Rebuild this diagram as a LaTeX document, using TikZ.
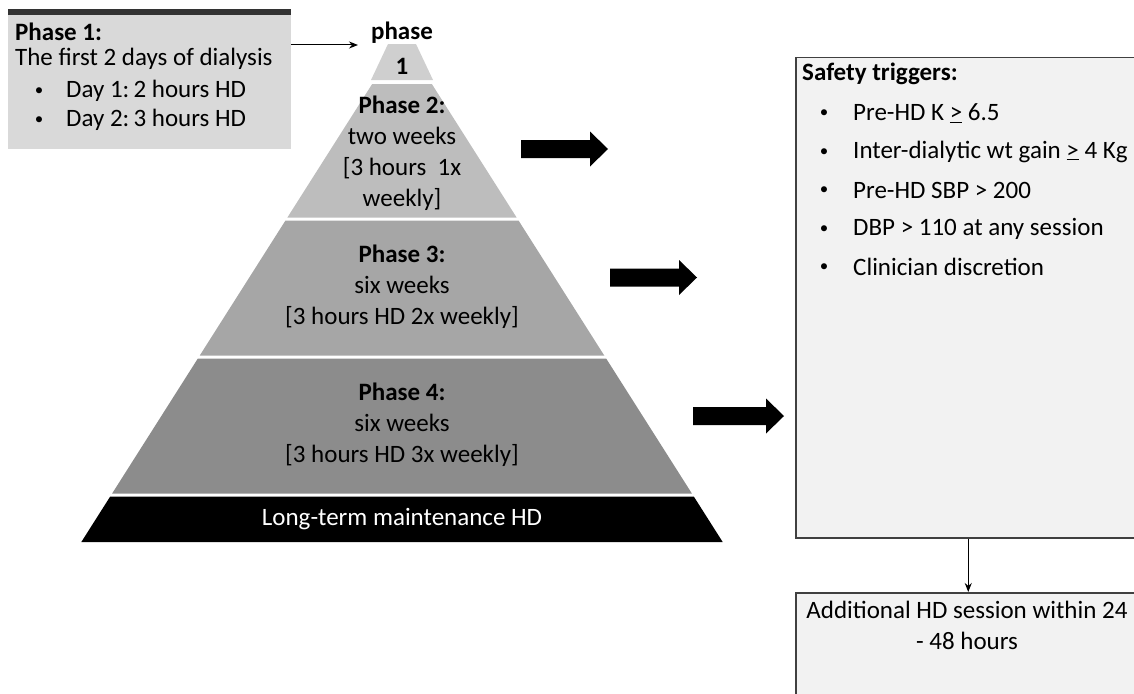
\documentclass[tikz,border=0pt]{standalone}
\usepackage{fontspec}
\setmainfont{Carlito}
\usetikzlibrary{arrows.meta}
\definecolor{boxgray}{HTML}{D9D9D9}
\definecolor{bargray}{HTML}{333333}
\definecolor{trigfill}{HTML}{F2F2F2}
\definecolor{trigline}{HTML}{404040}
\definecolor{layerone}{HTML}{CFCFCF}
\definecolor{layertwo}{HTML}{BDBDBD}
\definecolor{layerthree}{HTML}{A6A6A6}
\definecolor{layerfour}{HTML}{8C8C8C}

\begin{document}
\begin{tikzpicture}[x=1pt,y=-1pt,
    every node/.style={inner sep=0pt,font=\fontsize{25}{31}\selectfont},
    txt/.style={anchor=west},
    bul/.style={font=\fontsize{17}{20}\selectfont},
    layertxt/.style={align=center},
    thin arrow/.style={-{Stealth[length=9pt,width=7pt]},line width=1pt},
    trigbox/.style={draw=trigline,line width=1.5pt,fill=trigfill,anchor=north west,minimum width=345pt}]
  \clip (0,0) rectangle (1134,693);

  % phase 1 box
  \node[fill=boxgray,anchor=north west,minimum width=283pt,minimum height=134pt] (p1box) at (8,15) {};
  \fill[bargray] (p1box.north west) rectangle ([yshift=6pt]p1box.north east);
  \node[txt] (p1head) at (15,32) {\textbf{Phase 1:}};
  \node[txt] (p1sub) at (15,59) {The first 2 days of dialysis};
  \node[bul] (p1bula) at (39,92) {\textbullet};
  \node[txt] (p1day1) at (66,91) {Day 1:\,2 hours HD};
  \node[bul] (p1bulb) at (39,121) {\textbullet};
  \node[txt] (p1day2) at (66,120) {Day 2:\,3 hours HD};

  % pyramid
  \fill[layerone] (388,44) -- (416,44) -- (433,80) -- (371,80) -- cycle;
  \foreach \ya/\yb/\col in {84/217.5/layertwo, 220.5/355.5/layerthree, 358.5/493.5/layerfour, 496.5/542/black}
    \fill[\col] ({402-(\ya-37)*0.635},\ya) -- ({402+(\ya-37)*0.635},\ya)
      -- ({402+(\yb-37)*0.635},\yb) -- ({402-(\yb-37)*0.635},\yb) -- cycle;

  \node[layertxt,fill=white,inner xsep=2pt] (ptop) at (402,33) {\textbf{phase}};
  \node (pone) at (402,66) {\textbf{1}};
  \node[layertxt] (ptwo) at (402,153) {\textbf{Phase 2:}\\two weeks\\{[}3 hours\ \ 1x\\weekly{]}};
  \node[layertxt] (pthree) at (402,287) {\textbf{Phase 3:}\\six weeks\\{[}3 hours HD 2x weekly{]}};
  \node[layertxt] (pfour) at (402,425) {\textbf{Phase 4:}\\six weeks\\{[}3 hours HD 3x weekly{]}};
  \node[text=white] (ltm) at (402,519.5) {Long-term maintenance HD};

  \coordinate (p1tip) at (358,45);
  \draw[thin arrow] (p1box.east |- p1tip) -- (p1tip);

  % fat arrows
  \foreach \xa/\xt/\yc in {521/608/149, 610/697/277.5, 693/784/416}
    \fill (\xa,\yc-9) -- (\xt-18,\yc-9) -- (\xt-18,\yc-17.5) -- (\xt,\yc)
      -- (\xt-18,\yc+17.5) -- (\xt-18,\yc+9) -- (\xa,\yc+9) -- cycle;

  % safety triggers
  \node[trigbox,minimum height=480pt] (trig) at (795,57) {};
  \node[trigbox,minimum height=140pt] (extra) at (795,592) {};
  \draw[thin arrow] (trig.south) -- (extra.north);

  \node[txt] (trighead) at (802,74) {\textbf{Safety triggers:}};
  \foreach \crit [count=\i] in {{Pre-HD K \underline{>} 6.5},{Inter-dialytic wt gain \underline{>} 4 Kg},
      {Pre-HD SBP > 200},{DBP > 110 at any session},{Clinician discretion}} {
    \node[bul] (bul\i) at (824,{114+(\i-1)*38.5}) {\textbullet};
    \node[txt] (crit\i) at (853,{113+(\i-1)*38.5}) {\crit};
  }
  \node[layertxt] (extratxt) at (967,625) {Additional HD session within 24\\- 48 hours};
\end{tikzpicture}
\end{document}
